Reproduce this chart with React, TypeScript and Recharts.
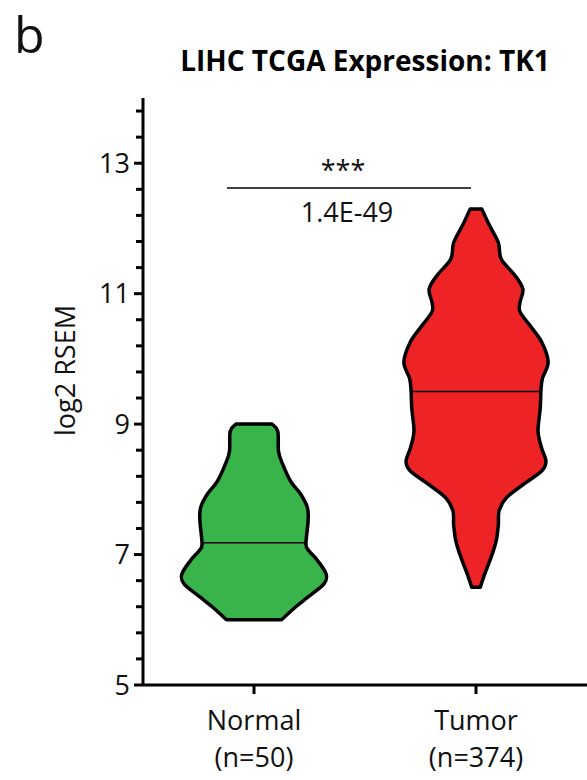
import React from 'react'
import { ComposedChart, Bar, XAxis, YAxis, ReferenceLine } from 'recharts'

const groups = ['Normal', 'Tumor']
const sampleCounts = [50, 374]
const medians = [7.18, 9.5]
const fills = ['#38b44a', '#ee2325']

// violin outlines, top to bottom: [log2 RSEM, relative half-width]
const normalProfile = [
  [9.0, 0.25], [8.89, 0.33], [8.58, 0.34], [8.38, 0.4], [8.12, 0.51],
  [7.92, 0.65], [7.72, 0.74], [7.52, 0.75], [7.16, 0.72], [7.06, 0.76],
  [6.91, 0.88], [6.7, 1.0], [6.55, 0.97], [6.35, 0.75], [6.2, 0.58], [6.0, 0.38],
]
const tumorProfile = [
  [12.3, 0.08], [12.04, 0.19], [11.78, 0.31], [11.53, 0.35], [11.28, 0.54],
  [11.07, 0.65], [10.87, 0.61], [10.72, 0.61], [10.51, 0.75], [10.26, 0.91],
  [9.95, 1.0], [9.7, 0.92], [9.51, 0.9], [9.24, 0.89], [8.89, 0.86],
  [8.63, 0.91], [8.43, 0.97], [8.28, 0.91], [8.07, 0.65], [7.87, 0.42],
  [7.67, 0.32], [7.46, 0.31], [7.21, 0.28], [6.96, 0.21], [6.7, 0.12], [6.5, 0.06],
]
const profiles = [normalProfile, tumorProfile]

const majorTicks = [5, 7, 9, 11, 13]
const minorTicks = [5.4, 5.8, 6.2, 6.6, 7.4, 7.8, 8.2, 8.6, 9.4, 9.8, 10.2, 10.6, 11.4, 11.8, 12.2, 12.6, 13.4, 13.8]

const sigY = 12.62
const sigStars = '***'
const sigP = '1.4E-49'

const font = '"Open Sans", sans-serif'

const chartData = groups.map((g, i) => ({
  name: g,
  n: sampleCounts[i],
  range: [profiles[i][profiles[i].length - 1][0], profiles[i][0][0]],
}))

// catmull-rom through points -> cubic bezier segments
function smooth(pts: number[][]) {
  let d = ''
  for (let i = 0; i < pts.length - 1; i++) {
    const p0 = pts[i - 1] || pts[i]
    const p1 = pts[i]
    const p2 = pts[i + 1]
    const p3 = pts[i + 2] || p2
    const c1x = p1[0] + (p2[0] - p0[0]) / 6
    const c1y = p1[1] + (p2[1] - p0[1]) / 6
    const c2x = p2[0] - (p3[0] - p1[0]) / 6
    const c2y = p2[1] - (p3[1] - p1[1]) / 6
    d += ` C${c1x},${c1y} ${c2x},${c2y} ${p2[0]},${p2[1]}`
  }
  return d
}

const ViolinShape = (props: any) => {
  const { x, y, width, height, index } = props
  const profile = profiles[index]
  const top = profile[0][0]
  const bottom = profile[profile.length - 1][0]
  const yTop = height >= 0 ? y : y + height
  const h = Math.abs(height)
  const cx = x + width / 2
  const maxHalf = width * 0.325
  const toPx = (v: number) => yTop + ((top - v) / (top - bottom)) * h

  const right = profile.map(([v, w]) => [cx + w * maxHalf, toPx(v)])
  const left = profile.map(([v, w]) => [cx - w * maxHalf, toPx(v)]).reverse()
  const d =
    `M${left[left.length - 1][0]},${left[left.length - 1][1]} L${right[0][0]},${right[0][1]}` +
    smooth(right) +
    ` L${left[0][0]},${left[0][1]}` +
    smooth(left) +
    ' Z'

  // half-width at the median
  const med = medians[index]
  let mw = 0
  for (let i = 0; i < profile.length - 1; i++) {
    const [v1, w1] = profile[i]
    const [v2, w2] = profile[i + 1]
    if (med <= v1 && med >= v2) {
      mw = w1 + ((v1 - med) / (v1 - v2)) * (w2 - w1)
      break
    }
  }
  const my = toPx(med)

  return (
    <g>
      <path d={d} fill={fills[index]} stroke="#000" strokeWidth={3.5} strokeLinejoin="round" />
      <line x1={cx - mw * maxHalf} x2={cx + mw * maxHalf} y1={my} y2={my} stroke="#000" strokeWidth={1.6} />
    </g>
  )
}

const YTick = (props: any) => {
  const { x, y, payload } = props
  const isMajor = majorTicks.includes(payload.value)
  return (
    <g>
      <line x1={x - (isMajor ? 9 : 7)} x2={x} y1={y} y2={y} stroke="#000" strokeWidth={3} />
      {isMajor && (
        <text x={x - 13} y={y} dy="0.36em" textAnchor="end" fontSize={27} fontFamily={font} fill="#111">
          {payload.value}
        </text>
      )}
    </g>
  )
}

const XTick = (props: any) => {
  const { x, y, payload, index } = props
  return (
    <g>
      <line x1={x} x2={x} y1={y} y2={y + 9} stroke="#000" strokeWidth={3} />
      <text x={x} y={y + 45} textAnchor="middle" fontSize={27} fontFamily={font} fill="#111">
        {payload.value}
      </text>
      <text x={x} y={y + 82} textAnchor="middle" fontSize={27} fontFamily={font} fill="#111">
        (n={sampleCounts[index]})
      </text>
    </g>
  )
}

const SigBracket = (props: any) => {
  const { x1, x2, y1 } = props
  const left = x1 - 27
  const right = x2 - 5
  const mid = (left + right) / 2
  return (
    <g>
      <line x1={left} x2={right} y1={y1} y2={y1} stroke="#000" strokeWidth={1.6} />
      <text x={mid - 6} y={y1 - 8} textAnchor="middle" fontSize={27} fontFamily={font} fill="#111">
        {sigStars}
      </text>
      <text x={mid - 2} y={y1 + 34} textAnchor="middle" fontSize={27} fontFamily={font} fill="#111">
        {sigP}
      </text>
    </g>
  )
}

const YLabel = (props: any) => {
  const { viewBox } = props
  const cy = viewBox.y + viewBox.height / 2 - 21
  return (
    <text x={65} y={cy} transform={`rotate(-90, 65, ${cy})`} textAnchor="middle" dy="0.36em" fontSize={27} fontFamily={font} fill="#111">
      log2 RSEM
    </text>
  )
}

export default function App() {
  return (
    <div style={{ position: 'absolute', left: 0, top: 0, width: 587, height: 780, background: '#fff' }}>
      <div style={{ position: 'absolute', left: 14, top: 9, fontFamily: font, fontSize: 50, color: '#111', lineHeight: 1 }}>b</div>
      <div
        style={{
          position: 'absolute', left: 140, width: 450, top: 44, textAlign: 'center',
          fontFamily: font, fontSize: 28, fontWeight: 700, color: '#000', lineHeight: 1.2,
        }}
      >
        LIHC TCGA Expression: TK1
      </div>
      <ComposedChart
        width={587}
        height={780}
        data={chartData}
        margin={{ top: 98, right: 0, bottom: 15, left: 83 }}
        barCategoryGap={0}
        style={{ position: 'absolute', left: 0, top: 0 }}
      >
        <XAxis
          dataKey="name"
          height={80}
          axisLine={{ stroke: '#000', strokeWidth: 3 }}
          tickLine={false}
          tickSize={0}
          tickMargin={0}
          tick={<XTick />}
          interval={0}
        />
        <YAxis
          type="number"
          domain={[5, 14]}
          ticks={[...majorTicks, ...minorTicks].sort((a, b) => a - b)}
          interval={0}
          width={60}
          axisLine={{ stroke: '#000', strokeWidth: 3 }}
          tickLine={false}
          tickSize={0}
          tickMargin={0}
          tick={<YTick />}
          allowDataOverflow
          label={<YLabel />}
        />
        <Bar dataKey="range" shape={<ViolinShape />} isAnimationActive={false} />
        <ReferenceLine
          segment={[{ x: groups[0], y: sigY }, { x: groups[1], y: sigY }]}
          shape={<SigBracket />}
          ifOverflow="visible"
        />
      </ComposedChart>
    </div>
  )
}
